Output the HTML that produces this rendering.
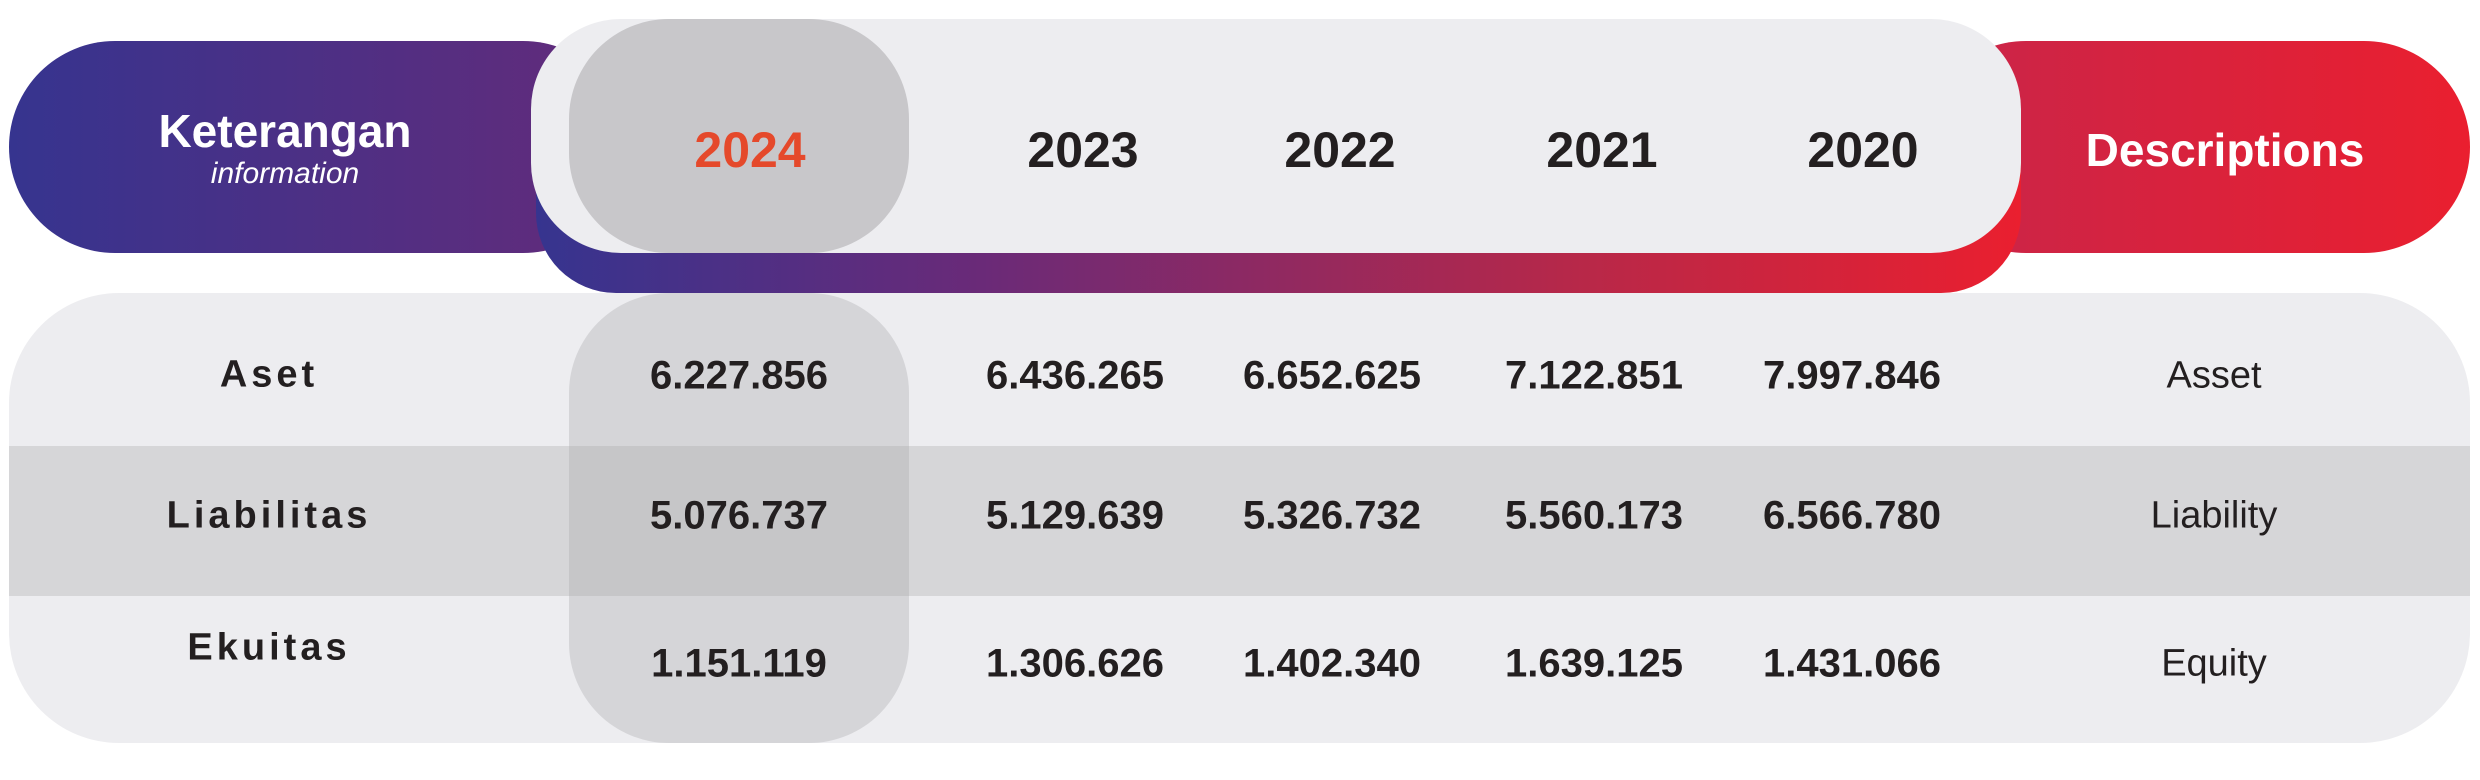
<!DOCTYPE html>
<html><head><meta charset="utf-8"><style>
body{margin:0;width:2480px;height:780px;background:#fff;position:relative;overflow:hidden;font-family:"Liberation Sans",sans-serif}
div{position:absolute;box-sizing:border-box}
.t{transform:translate(-50%,-50%);white-space:nowrap;font-weight:bold;color:#231f20}
.yr{font-size:50px;top:150px}
.v{font-size:40px}
.lb{font-size:38px;letter-spacing:4px}
.en{font-size:38px;font-weight:normal}
</style></head><body>
<div style="left:9px;top:41px;width:620px;height:212px;border-radius:106px;background:linear-gradient(90deg,#36348f,#642b7a)"></div>
<div style="left:1920px;top:41px;width:550px;height:212px;border-radius:106px;background:linear-gradient(90deg,#c8254a,#ea1f2f)"></div>
<div style="left:536px;top:110px;width:1485px;height:183px;border-radius:0 0 80px 80px / 0 0 80px 80px;background:linear-gradient(90deg,#36348f,#6a2a78 30%,#b72849 70%,#ea1f2f)"></div>
<div style="left:531px;top:19px;width:1490px;height:234px;border-radius:90px;background:#ededf0"></div>
<div style="left:569px;top:19px;width:340px;height:234px;border-radius:100px;background:#c8c7ca"></div>
<div style="left:9px;top:293px;width:2461px;height:450px;border-radius:110px;background:#ededf0;overflow:hidden">
  <div style="left:0;top:153px;width:2461px;height:150px;background:#d6d6d8"></div>
</div>
<div style="left:569px;top:293px;width:340px;height:450px;border-radius:100px;background:rgba(170,168,172,0.35)"></div>

<div class="t" style="left:285px;top:131px;font-size:46px;color:#fff">Keterangan</div>
<div class="t" style="left:285px;top:174px;font-size:30px;font-weight:normal;font-style:italic;color:#fff">information</div>
<div class="t" style="left:2225px;top:150px;font-size:46px;color:#fff">Descriptions</div>
<div class="t yr" style="left:750px;color:#e5492b">2024</div>
<div class="t yr" style="left:1083px">2023</div>
<div class="t yr" style="left:1340px">2022</div>
<div class="t yr" style="left:1602px">2021</div>
<div class="t yr" style="left:1863px">2020</div>

<div class="t lb" style="left:269px;top:375px">Aset</div>
<div class="t lb" style="left:269px;top:516px">Liabilitas</div>
<div class="t lb" style="left:269px;top:648px">Ekuitas</div>

<div class="t v" style="left:739px;top:376px">6.227.856</div>
<div class="t v" style="left:1075px;top:376px">6.436.265</div>
<div class="t v" style="left:1332px;top:376px">6.652.625</div>
<div class="t v" style="left:1594px;top:376px">7.122.851</div>
<div class="t v" style="left:1852px;top:376px">7.997.846</div>

<div class="t v" style="left:739px;top:516px">5.076.737</div>
<div class="t v" style="left:1075px;top:516px">5.129.639</div>
<div class="t v" style="left:1332px;top:516px">5.326.732</div>
<div class="t v" style="left:1594px;top:516px">5.560.173</div>
<div class="t v" style="left:1852px;top:516px">6.566.780</div>

<div class="t v" style="left:739px;top:664px">1.151.119</div>
<div class="t v" style="left:1075px;top:664px">1.306.626</div>
<div class="t v" style="left:1332px;top:664px">1.402.340</div>
<div class="t v" style="left:1594px;top:664px">1.639.125</div>
<div class="t v" style="left:1852px;top:664px">1.431.066</div>

<div class="t en" style="left:2214px;top:376px">Asset</div>
<div class="t en" style="left:2214px;top:516px">Liability</div>
<div class="t en" style="left:2214px;top:664px">Equity</div>
</body></html>
